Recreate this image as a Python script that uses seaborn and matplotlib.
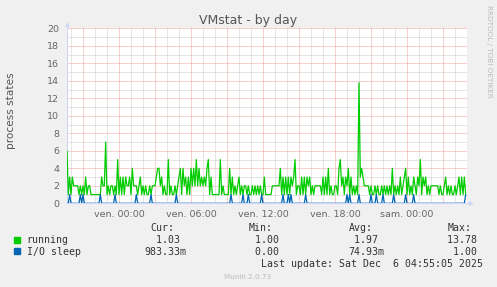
import matplotlib
matplotlib.use("Agg")
import matplotlib.pyplot as plt
import matplotlib.dates as mdates
from matplotlib.patches import Rectangle
from matplotlib.ticker import MultipleLocator, FuncFormatter
import pandas as pd
import seaborn as sns

# ---------------- data ----------------
running = [
    6, 1, 3, 1, 3, 2, 2, 2, 2, 1, 2, 1, 2, 1, 3, 1, 2, 2, 1, 1,
    1, 1, 1, 1, 1, 1, 3, 2, 2, 7, 1, 2, 1, 2, 2, 1, 2, 1, 5, 1,
    3, 1, 3, 1, 3, 2, 2, 3, 1, 4, 2, 2, 2, 1, 2, 3, 1, 2, 1, 2,
    1, 1, 2, 1, 2, 2, 2, 3, 4, 4, 2, 3, 1, 2, 1, 1, 5, 1, 2, 1,
    1, 2, 1, 2, 3, 4, 1, 4, 2, 3, 1, 3, 1, 4, 2, 4, 2, 5, 2, 4,
    2, 3, 2, 3, 2, 4, 5, 1, 3, 1, 1, 1, 1, 1, 1, 5, 1, 2, 1, 1,
    1, 1, 4, 1, 3, 1, 2, 1, 2, 3, 1, 2, 1, 2, 2, 1, 2, 1,
    1, 2, 1, 2, 1, 2, 1, 2, 1, 1, 3, 1, 1, 1, 1, 1, 2, 2, 2, 2,
    2, 2, 4, 1, 3, 1, 3, 1, 3, 1, 3, 2, 3, 5, 1, 2, 2, 1, 3, 1,
    3, 1, 3, 2, 3, 1, 2, 1, 2, 2, 2, 2, 2, 1, 3, 1, 3, 1, 4, 1,
    2, 1, 1, 2, 2, 1, 4, 5, 2, 3, 1, 3, 2, 4, 1, 3, 1, 2, 1, 2,
    1, 13.78, 3, 4, 3, 2, 2, 2, 2, 1, 2, 1, 1, 2, 1, 2, 1, 1, 2, 1,
    2, 1, 2, 1, 2, 1, 4, 1, 2, 1, 2, 1, 3, 1, 2, 3, 4, 1, 3, 1,
    2, 1, 3, 2, 1, 3, 2, 5, 1, 3, 2, 3, 1, 2, 1, 2, 2, 2, 2, 2,
    2, 1, 2, 1, 1, 2, 3, 1, 2, 1, 2, 1, 1, 2, 1, 2, 3, 1, 3, 1,
    3, 1.03,
]
io_sleep = [
    0, 0, 1, 0, 0, 0, 0, 0, 0, 0, 1, 0, 1, 0, 0, 0, 0, 0, 0, 0,
    0, 0, 0, 0, 0, 1, 0, 0, 0, 0, 0, 0, 0, 0, 0, 0, 1, 0, 0, 0,
    0, 0, 0, 0, 0, 0, 0, 0, 0, 0, 0, 0, 1, 0, 0, 0, 0, 0, 0, 0,
    0, 0, 0, 1, 0, 0, 0, 0, 0, 0, 0, 0, 0, 0, 0, 0, 0, 0, 0, 0,
    0, 0, 1, 0, 0, 0, 0, 0, 0, 0, 0, 0, 0, 0, 0, 0, 0, 0, 0, 0,
    0, 0, 0, 0, 0, 0, 0, 0, 0, 0, 0, 0, 0, 0, 0, 0, 0, 0, 0, 0,
    0, 0, 0, 1, 0, 0, 0, 0, 0, 0, 0, 0, 1, 0, 0, 0, 1, 0, 0, 0,
    0, 0, 0, 0, 0, 0, 1, 0, 0, 0, 0, 0, 0, 0, 0, 0, 0, 0, 0, 0,
    0, 0, 1, 0, 0, 0, 1, 0, 1, 0, 0, 0, 0, 0, 0, 0, 0, 0, 0, 1,
    0, 0, 0, 0, 0, 0, 0, 0, 0, 0, 0, 0, 0, 0, 0, 0, 0, 0, 0, 0,
    0, 0, 0, 0, 0, 0, 0, 0, 0, 0, 1, 0, 1, 0, 0, 0, 0, 0, 0, 1,
    0, 0, 0, 0, 0, 0, 0, 0, 1, 0, 0, 0, 1, 0, 0, 0, 0, 1, 0, 0,
    0, 0, 0, 0, 0, 1, 0, 0, 0, 0, 0, 0, 0, 0, 1, 0, 0, 0, 0, 0,
    1, 0, 0, 0, 0, 0, 0, 0, 0, 0, 0, 0, 0, 0, 0, 0, 0, 0, 0, 0,
    0, 0, 0, 0, 0, 0, 0, 0, 0, 0, 0, 0, 0, 0, 0, 0, 0, 0, 0, 0.98,
]
start_time = "2025-12-04 19:40"
end_time = "2025-12-06 05:00"
sample_seconds = 400
tick_times = ["2025-12-05 00:00", "2025-12-05 06:00", "2025-12-05 12:00",
              "2025-12-05 18:00", "2025-12-06 00:00"]
tick_labels = ["ven. 00:00", "ven. 06:00", "ven. 12:00", "ven. 18:00", "sam. 00:00"]
series_names = ["running", "I/O sleep"]
series_colors = ["#00CC00", "#0066B3"]
stat_headers = ["Cur:", "Min:", "Avg:", "Max:"]
running_stats = ["1.03 ", "1.00 ", "1.97 ", "13.78 "]
io_stats = ["983.33m", "0.00 ", "74.93m", "1.00 "]
title = "VMstat - by day"
ylabel = "process states"
last_update = "Last update: Sat Dec  6 04:55:05 2025"
footer = "Munin 2.0.73"
watermark = "RRDTOOL / TOBI OETIKER"

# ---------------- figure ----------------
W, H = 497, 287
sns.set_style("white")
plt.rcParams["font.family"] = ["DejaVu Sans"]

times = pd.date_range(start_time, periods=len(running), freq=f"{sample_seconds}s")
df = pd.DataFrame({"time": times, "running": running, "io": io_sleep})

fig = plt.figure(figsize=(W / 100, H / 100), dpi=100, facecolor="#F0F0F0")
ax = fig.add_axes([67 / W, 1 - 203.3 / H, 400 / W, 175 / H])
ax.set_facecolor("white")

def fx(x):
    return x / W

def fy(y):
    return 1 - y / H

sns.lineplot(data=df, x="time", y="running", ax=ax, color=series_colors[0],
             lw=0.9, estimator=None, legend=False, zorder=3)
sns.lineplot(data=df, x="time", y="io", ax=ax, color=series_colors[1],
             lw=0.9, estimator=None, legend=False, zorder=4)

ax.set_xlim(pd.Timestamp(start_time), pd.Timestamp(end_time))
ax.set_ylim(0, 20)

# grid
ax.yaxis.set_major_locator(MultipleLocator(2))
ax.yaxis.set_minor_locator(MultipleLocator(1))
ax.xaxis.set_major_locator(mdates.HourLocator(byhour=range(0, 24, 3)))
ax.xaxis.set_minor_locator(mdates.HourLocator())
label_map = dict(zip([pd.Timestamp(t).strftime("%Y-%m-%d %H:%M") for t in tick_times], tick_labels))

def fmt(v, pos):
    key = mdates.num2date(v).strftime("%Y-%m-%d %H:%M")
    return label_map.get(key, "")

ax.xaxis.set_major_formatter(FuncFormatter(fmt))
ax.set_axisbelow(True)
ax.grid(which="major", color="#F0A0A0", lw=0.72, linestyle=(0, (1, 1)))
ax.grid(which="minor", color="#CCCCCC", lw=0.72, linestyle=(0, (1, 1)))

ax.tick_params(axis="both", which="major", length=2, width=0.7, color="#E09090",
               labelsize=6.8, labelcolor="#666666", pad=3.5)
ax.tick_params(axis="both", which="minor", length=1.5, width=0.7, color="#BBBBBB")
ax.tick_params(axis="x", which="major", pad=2.5)
ax.set_xlabel("")
ax.set_ylabel("")

for s in ["top", "right"]:
    ax.spines[s].set_visible(False)
for s in ["left", "bottom"]:
    ax.spines[s].set_color("#CFD6F8")
    ax.spines[s].set_linewidth(0.8)
    ax.spines[s].set_zorder(2)

# arrows
ax.plot([0, 0], [1.0, 1.025], transform=ax.transAxes, color="#CFD6F8", lw=0.8, clip_on=False)
ax.plot([0], [1.027], transform=ax.transAxes, marker="^", color="#CFD6F8", ms=3.5,
        clip_on=False, markeredgewidth=0)
ax.plot([1.0, 1.006], [0, 0], transform=ax.transAxes, color="#CFD6F8", lw=0.8, clip_on=False)
ax.plot([1.009], [0], transform=ax.transAxes, marker=">", color="#CFD6F8", ms=3.5,
        clip_on=False, markeredgewidth=0)

# texts
fig.text(0.5, fy(24), title, ha="center", va="baseline", fontsize=9, color="#555555")
fig.text(fx(11), fy(111), ylabel, ha="center", va="center", rotation=90,
         fontsize=7.6, color="#555555")
fig.text(fx(488.5), fy(5), watermark, ha="center", va="top", rotation=270,
         fontsize=5.2, color="#BBBBBB")

mono = "DejaVu Sans Mono"
msize = 7.1
cw = msize / 72 * 100 * 0.602
col_right = [185.5, 284.5, 384.0, 483.0]
text_color = "#333333"
for h, r in zip(stat_headers, col_right):
    fig.text(fx(r - 6 * cw), fy(231.3), h, family=mono, fontsize=msize,
             color=text_color, va="baseline", ha="left")
rows = [(series_names[0], series_colors[0], running_stats, 243.0),
        (series_names[1], series_colors[1], io_stats, 254.8)]
for name, col, stats, base in rows:
    fig.patches.append(Rectangle((fx(14), fy(base - 0.5)), 6 / W, 6 / H,
                                 transform=fig.transFigure, color=col, figure=fig))
    fig.text(fx(26.7), fy(base), name, family=mono, fontsize=msize,
             color=text_color, va="baseline", ha="left")
    for s, r in zip(stats, col_right):
        fig.text(fx(r - len(s) * cw), fy(base), s, family=mono, fontsize=msize,
                 color=text_color, va="baseline", ha="left")
fig.text(fx(483), fy(267.3), last_update, family=mono, fontsize=msize,
         color=text_color, va="baseline", ha="right")
fig.text(fx(248), fy(278.7), footer, ha="center", va="baseline", fontsize=5.2,
         color="#BBBBBB")

fig.savefig("out.png", dpi=100, facecolor=fig.get_facecolor())
